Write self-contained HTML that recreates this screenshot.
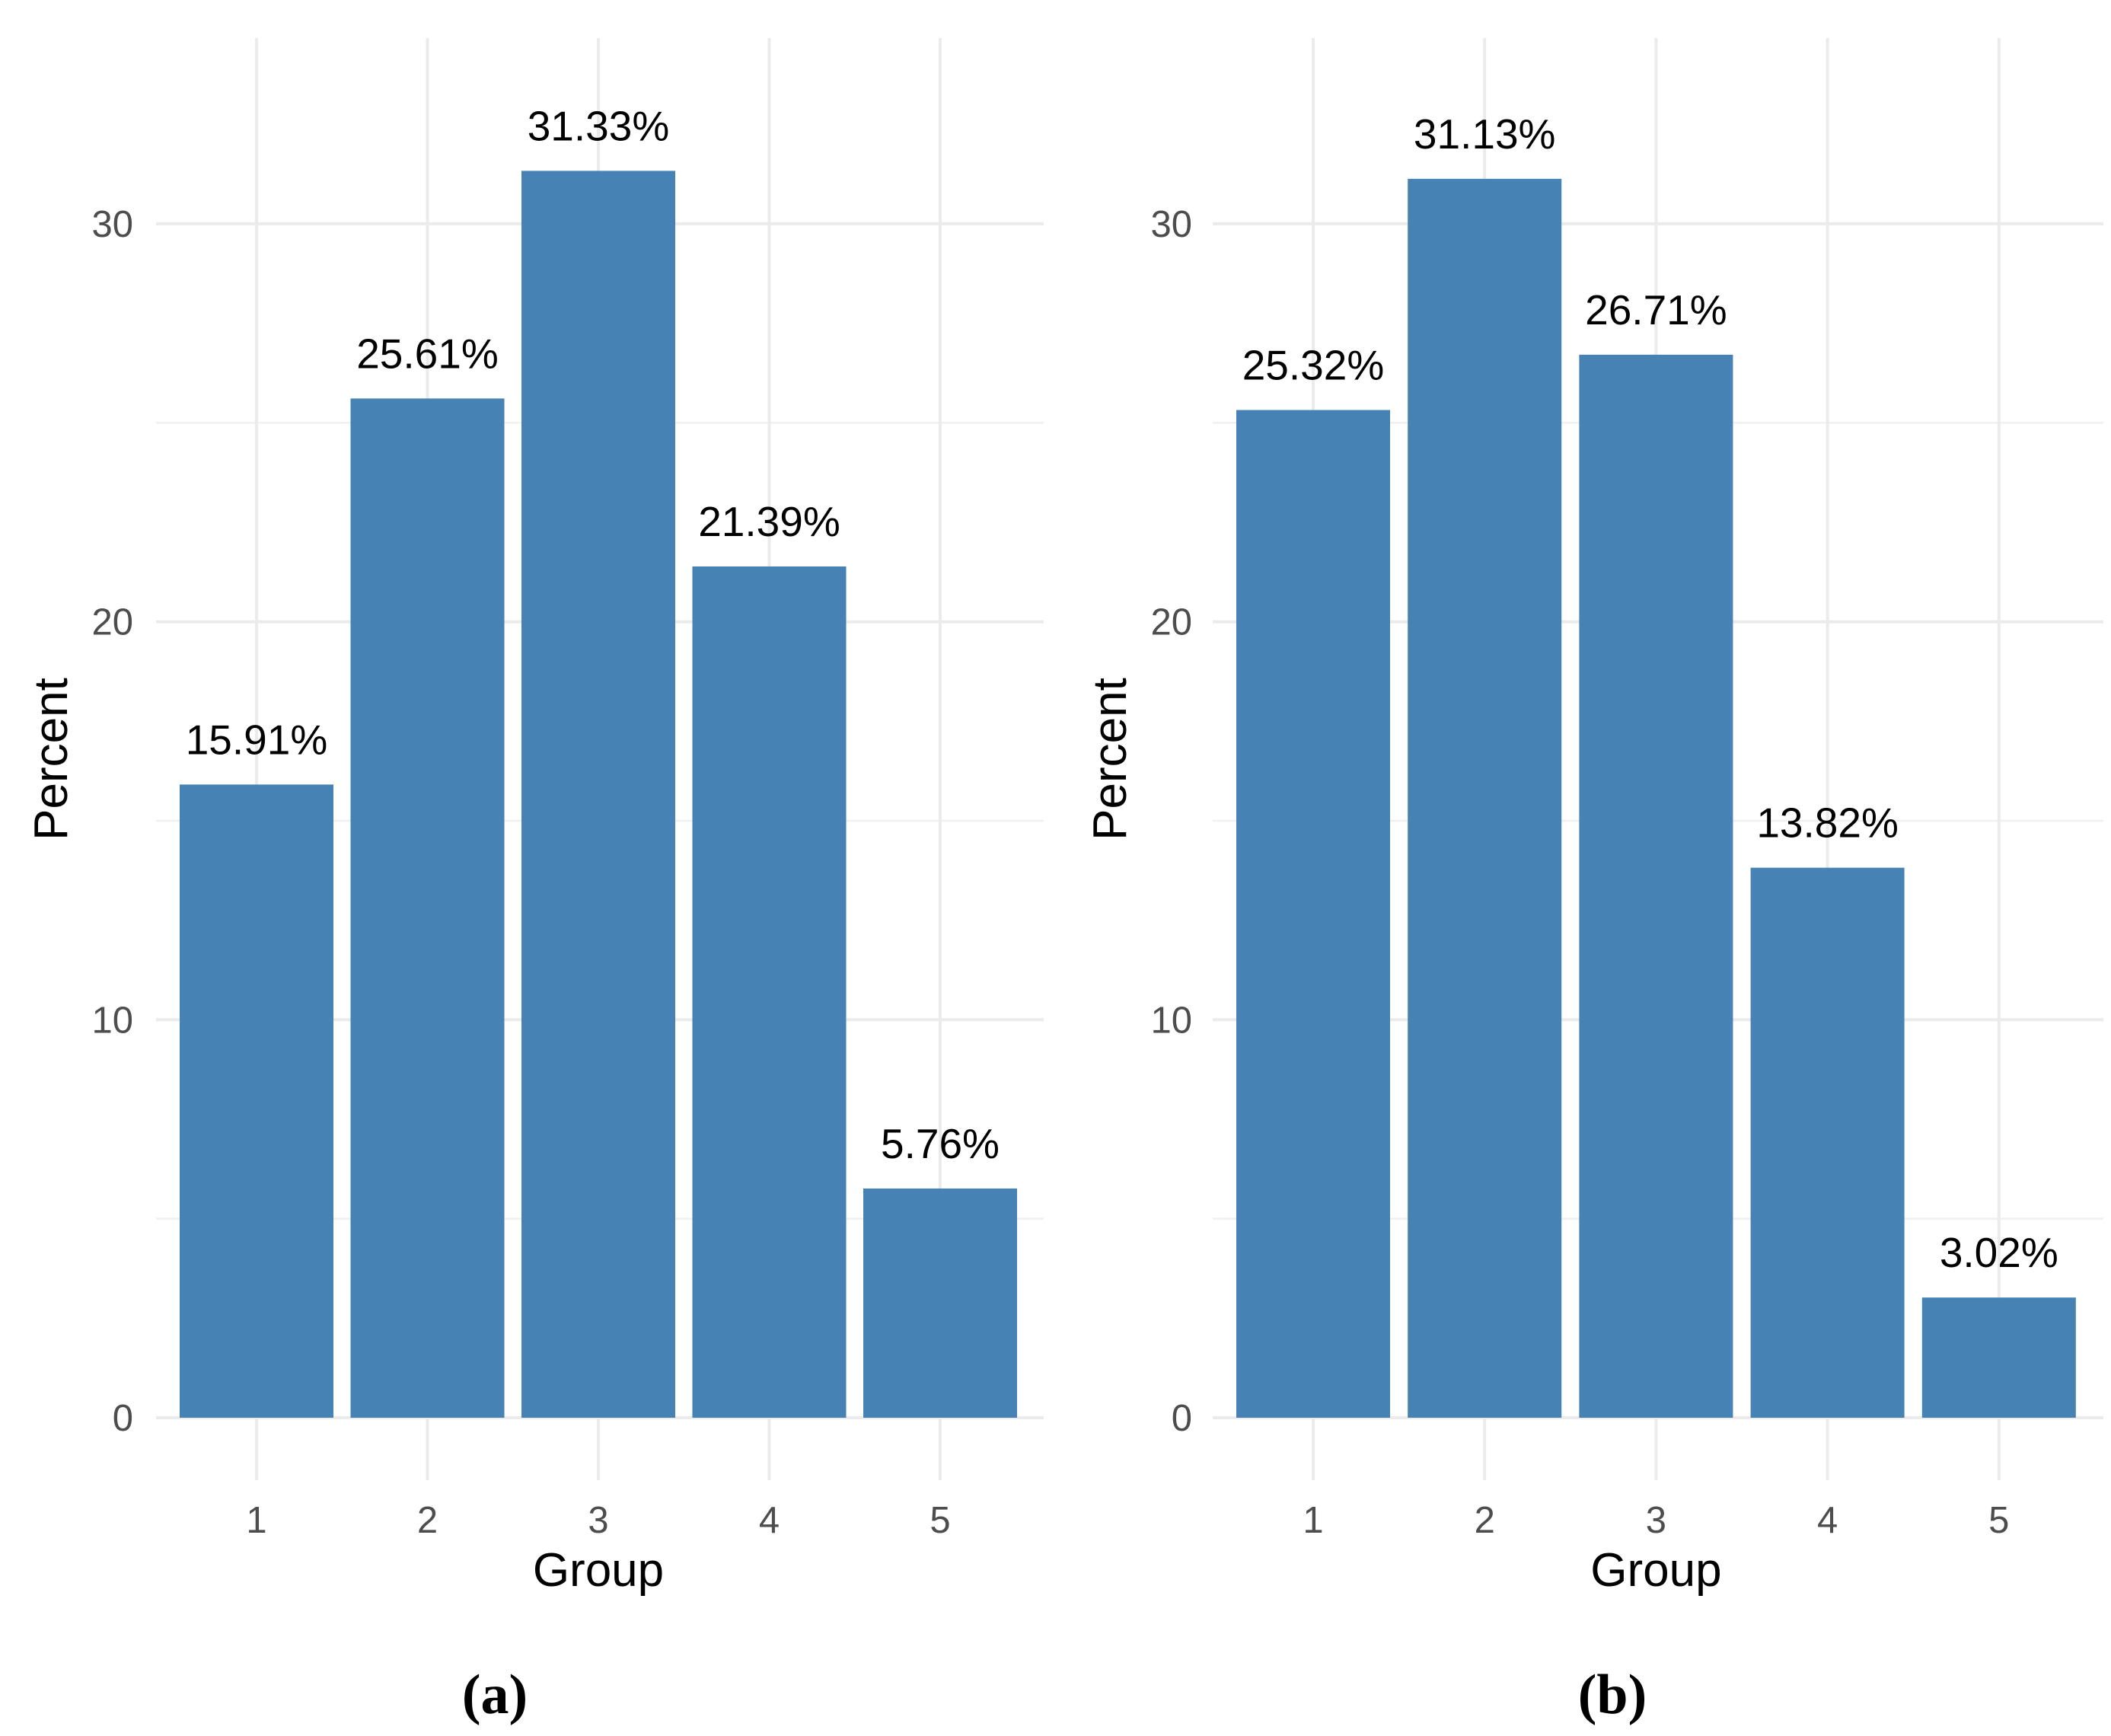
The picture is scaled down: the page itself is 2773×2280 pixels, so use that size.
<!DOCTYPE html>
<html><head><meta charset="utf-8"><style>
html,body{margin:0;padding:0;background:#fff}
svg{display:block}
</style></head><body>
<svg id="fig" width="2773" height="2280" viewBox="0 0 2773 2280" xmlns="http://www.w3.org/2000/svg"></svg>
<script>
const categories = ["1","2","3","4","5"];
const valuesA = [15.91, 25.61, 31.33, 21.39, 5.76];
const valuesB = [25.32, 31.13, 26.71, 13.82, 3.02];
const labelsA = ["15.91%","25.61%","31.33%","21.39%","5.76%"];
const labelsB = ["25.32%","31.13%","26.71%","13.82%","3.02%"];
const yTicks = [0,10,20,30];
const yMinor = [5,15,25];

const NS = "http://www.w3.org/2000/svg";
const svg = document.getElementById("fig");
function mk(tag, attrs, parent){
  const e = document.createElementNS(NS, tag);
  for (const k in attrs) e.setAttribute(k, attrs[k]);
  (parent||svg).appendChild(e);
  return e;
}
function panel(name, left, right, x0, step, values, labels, tickRight, ylabX, panelLabel, panelLabelX){
  const g = mk("g", {});
  
  
  const y = v => 1862 - v * 52.27;
  const x = i => x0 + i * step;
  const barW = 202;
  yMinor.forEach(v => {
    const l = mk("line", {x1:left, x2:right, y1:y(v), y2:y(v), stroke:"#f0f0f0", "stroke-width":2.5}, g);
    
    
  });
  yTicks.forEach(v => {
    const l = mk("line", {x1:left, x2:right, y1:y(v), y2:y(v), stroke:"#ebebeb", "stroke-width":4}, g);
    
    
    const t = mk("text", {x:tickRight, y:y(v)+17, "text-anchor":"end", "font-size":49, fill:"#4d4d4d", "font-family":"Liberation Sans, sans-serif"}, g);
    t.textContent = v;
    
    
  });
  categories.forEach((c, i) => {
    const l = mk("line", {x1:x(i), x2:x(i), y1:50, y2:1944, stroke:"#ebebeb", "stroke-width":4}, g);
    
    
  });
  categories.forEach((c, i) => {
    const r = mk("rect", {x:x(i)-barW/2, y:y(values[i]), width:barW, height:y(0)-y(values[i]), fill:"#4682b4"}, g);
    
    
    const t = mk("text", {x:x(i), y:y(values[i])-40, "text-anchor":"middle", "font-size":55, fill:"#000", "font-family":"Liberation Sans, sans-serif"}, g);
    t.textContent = labels[i];
    
    
    const xt = mk("text", {x:x(i), y:2013, "text-anchor":"middle", "font-size":49, fill:"#4d4d4d", "font-family":"Liberation Sans, sans-serif"}, g);
    xt.textContent = c;
    
    
  });
  const xl = mk("text", {x:x(2), y:2083, "text-anchor":"middle", "font-size":62, fill:"#000", "font-family":"Liberation Sans, sans-serif"}, g);
  xl.textContent = "Group";
  
  
  const yl = mk("text", {x:0, y:0, "text-anchor":"middle", "font-size":62, fill:"#000", "font-family":"Liberation Sans, sans-serif", transform:"translate(" + ylabX + ",997) rotate(-90)"}, g);
  yl.textContent = "Percent";
  
  
  const pl = mk("text", {x:panelLabelX, y:2250, "text-anchor":"middle", "font-size":74, "font-weight":"bold", fill:"#000", "font-family":"Liberation Serif, serif"}, g);
  pl.textContent = panelLabel;
  
  
}
panel("panel-a", 205, 1371, 337, 224.5, valuesA, labelsA, 175, 88, "(a)", 650);
panel("panel-b", 1593, 2763, 1725, 225.2, valuesB, labelsB, 1566, 1479, "(b)", 2118);
</script>
</body></html>
